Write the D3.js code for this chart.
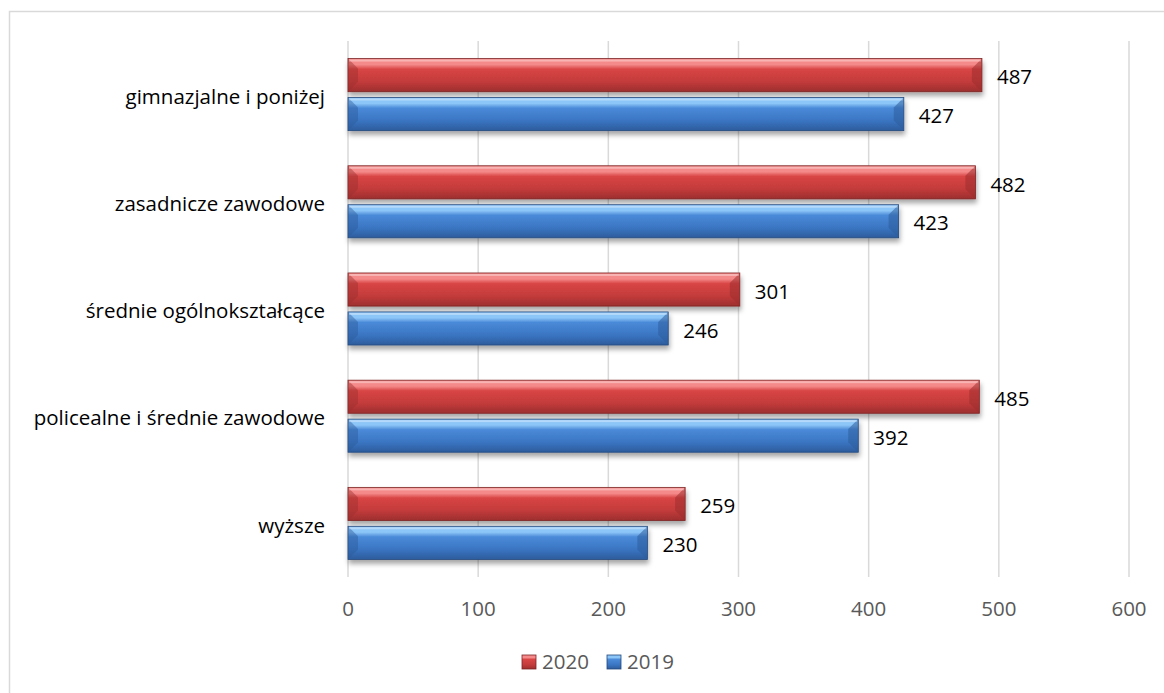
<!DOCTYPE html>
<html>
<head>
<meta charset="utf-8">
<script src="https://cdn.jsdelivr.net/npm/d3@7"></script>
<style>
  body { margin: 0; background: #fff; }
  svg text { font-family: "Open Sans", "Noto Sans", sans-serif; }
</style>
</head>
<body>
<div id="chart"></div>
<script>
// categories top to bottom
const categories = ["gimnazjalne i poniżej", "zasadnicze zawodowe", "średnie ogólnokształcące",
                    "policealne i średnie zawodowe", "wyższe"];
const seriesNames = ["2020", "2019"];
const values2020 = [487, 482, 301, 485, 259];
const values2019 = [427, 423, 246, 392, 230];
const xTicks = [0, 100, 200, 300, 400, 500, 600];

const width = 1164, height = 693;
const plot = {left: 348, right: 1129, top: 41, bottom: 577};
const fontSize = 20.5;

const svg = d3.select("#chart").append("svg")
    .attr("width", width)
    .attr("height", height);

// chart frame (only top and left edge fall inside the picture)
svg.append("rect")
    .attr("x", 9.5).attr("y", 11.5)
    .attr("width", 1200).attr("height", 720)
    .attr("fill", "none")
    .attr("stroke", "#d9d9d9")
    .attr("stroke-width", 1.5);

const defs = svg.append("defs");

// colours for the bevelled bars
const palette = {
    "2020": {light: "#f58a8a", mid: "#d94545", main: "#c33b3b", dark: "#9c2e2e", edge: "#7d2424"},
    "2019": {light: "#8cc5f7", mid: "#4a8ad8", main: "#3a75c2", dark: "#2d5c9c", edge: "#24497d"}
};

seriesNames.forEach(s => {
    let p = palette[s];
    let g = defs.append("linearGradient")
        .attr("id", "grad" + s)
        .attr("x1", 0).attr("y1", 0).attr("x2", 0).attr("y2", 1);
    g.append("stop").attr("offset", "0%").attr("stop-color", p.light);
    g.append("stop").attr("offset", "18%").attr("stop-color", p.light);
    g.append("stop").attr("offset", "32%").attr("stop-color", p.mid);
    g.append("stop").attr("offset", "70%").attr("stop-color", p.main);
    g.append("stop").attr("offset", "100%").attr("stop-color", p.dark);
});

let shadow = defs.append("filter").attr("id", "shadow")
    .attr("x", "-5%").attr("y", "-30%").attr("width", "110%").attr("height", "180%");
shadow.append("feDropShadow")
    .attr("dx", 1).attr("dy", 4)
    .attr("stdDeviation", 2.5)
    .attr("flood-color", "#000")
    .attr("flood-opacity", 0.35);

// scales
const x = d3.scaleLinear().domain([0, 600]).range([plot.left, plot.right]);

const y = d3.scaleBand()
    .domain(categories)
    .range([plot.top, plot.bottom])
    .paddingInner(0.328)
    .paddingOuter(0.164);

const ySeries = d3.scaleBand()
    .domain(seriesNames)
    .range([0, y.bandwidth()])
    .paddingInner(0.15);

// gridlines
svg.append("g").selectAll("line")
    .data(xTicks)
    .join("line")
    .attr("x1", d => x(d)).attr("x2", d => x(d))
    .attr("y1", plot.top).attr("y2", plot.bottom)
    .attr("stroke", "#d9d9d9")
    .attr("stroke-width", 1.5);

// x axis tick labels
svg.append("g").selectAll("text")
    .data(xTicks)
    .join("text")
    .attr("x", d => x(d))
    .attr("y", 609)
    .attr("dy", "0.35em")
    .attr("text-anchor", "middle")
    .attr("font-size", fontSize)
    .attr("fill", "#595959")
    .text(d => d);

// category labels
svg.append("g").selectAll("text")
    .data(categories)
    .join("text")
    .attr("x", 325)
    .attr("y", d => y(d) + y.bandwidth() / 2 + 2)
    .attr("dy", "0.35em")
    .attr("text-anchor", "end")
    .attr("font-size", fontSize)
    .attr("fill", "#000")
    .text(d => d);

// flat records for bars
let rows = [];
categories.forEach((c, i) => {
    rows.push({cat: c, series: "2020", value: values2020[i]});
    rows.push({cat: c, series: "2019", value: values2019[i]});
});

let bars = svg.append("g").selectAll("g.bar")
    .data(rows)
    .join("g")
    .attr("class", "bar")
    .attr("transform", d => "translate(" + x(0) + "," + (y(d.cat) + ySeries(d.series)) + ")");

let bh = ySeries.bandwidth();

bars.append("rect")
    .attr("width", d => x(d.value) - x(0))
    .attr("height", bh)
    .attr("fill", d => "url(#grad" + d.series + ")")
    .attr("stroke", d => palette[d.series].edge)
    .attr("stroke-width", 0.8)
    .attr("filter", "url(#shadow)");

// bevel on the left end
bars.append("path")
    .attr("d", "M0,0 L10,10 L10," + (bh - 10) + " L0," + bh + " Z")
    .attr("fill", d => palette[d.series].dark)
    .attr("opacity", 0.45);

// bevel on the right end
bars.append("path")
    .attr("d", d => {
        let w = x(d.value) - x(0);
        return "M" + w + ",0 L" + (w - 10) + ",10 L" + (w - 10) + "," + (bh - 10) + " L" + w + "," + bh + " Z";
    })
    .attr("fill", d => palette[d.series].dark)
    .attr("opacity", 0.55);

// thin highlight along the top
bars.append("rect")
    .attr("x", 1).attr("y", 1)
    .attr("width", d => Math.max(0, x(d.value) - x(0) - 2))
    .attr("height", 2)
    .attr("fill", "#fff")
    .attr("opacity", 0.35);

// value labels
svg.append("g").selectAll("text")
    .data(rows)
    .join("text")
    .attr("x", d => x(d.value) + 15)
    .attr("y", d => y(d.cat) + ySeries(d.series) + bh / 2 + 2)
    .attr("dy", "0.35em")
    .attr("font-size", fontSize)
    .attr("fill", "#000")
    .text(d => d.value);

// legend
let legend = svg.append("g").attr("transform", "translate(522,655)");
let legendX = [0, 85];
seriesNames.forEach((s, i) => {
    let lg = legend.append("g").attr("transform", "translate(" + legendX[i] + ",0)");
    lg.append("rect")
        .attr("width", 14).attr("height", 14)
        .attr("fill", "url(#grad" + s + ")")
        .attr("stroke", palette[s].edge)
        .attr("stroke-width", 0.8);
    lg.append("text")
        .attr("x", 20).attr("y", 7)
        .attr("dy", "0.35em")
        .attr("font-size", fontSize)
        .attr("fill", "#595959")
        .text(s);
});
</script>
</body>
</html>
